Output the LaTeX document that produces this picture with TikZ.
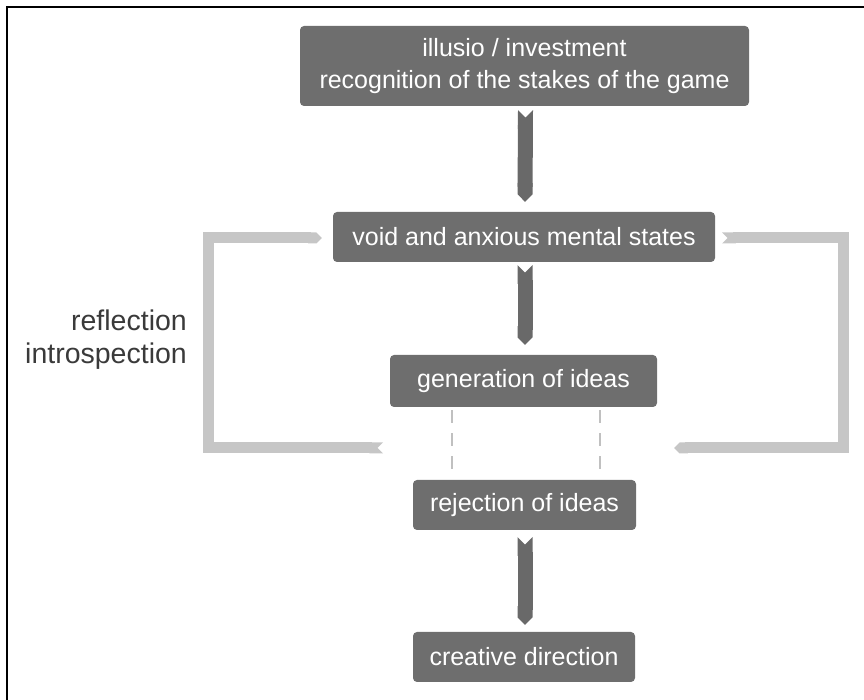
\documentclass[tikz,border=0pt]{standalone}
\usepackage{fontspec}
\setmainfont{Liberation Sans}
\usetikzlibrary{arrows.meta}
\definecolor{boxgray}{HTML}{6E6E6E}
\definecolor{arrgray}{HTML}{696969}
\definecolor{loopgray}{HTML}{C6C6C6}
\definecolor{dashgray}{HTML}{C0C0C0}
\definecolor{labgray}{HTML}{3A3A3A}
\begin{document}
\begin{tikzpicture}[x=1pt,y=1pt,
 stagebox/.style={fill=boxgray, rounded corners=4pt, text=white, inner sep=0pt, align=center, font=\fontsize{25}{32}\selectfont},
 bigarrow/.style={draw=arrgray, line width=15pt, {Triangle Cap[reversed]}-{Triangle Cap}},
 loopline/.style={draw=loopgray, line width=11pt, line join=miter, {Triangle Cap[reversed]}-{Triangle Cap}},
 dashline/.style={draw=dashgray, line width=2.5pt, dash pattern=on 13pt off 10pt},
 sidelabel/.style={text=labgray, align=right, font=\fontsize{28.5}{33}\selectfont, inner sep=0pt}]
\useasboundingbox (0,0) rectangle (864,700);
\draw[line width=2pt] (7,0) -- (7,693) -- (864,693);
\node[stagebox, minimum width=449pt, minimum height=80pt] (b1) at (524.5,634) {illusio / investment\\recognition of the stakes of the game};
\node[stagebox, minimum width=382pt, minimum height=50pt] (b2) at (524,463) {void and anxious mental states};
\node[stagebox, minimum width=267pt, minimum height=52pt] (b3) at (523.5,319) {generation of ideas};
\node[stagebox, minimum width=223pt, minimum height=50pt] (b4) at (524.5,195) {rejection of ideas};
\node[stagebox, minimum width=222pt, minimum height=50pt] (b5) at (524,43) {creative direction};
\node[sidelabel, anchor=east] (lab) at (187,360) {reflection\\introspection};
\draw[bigarrow] ([xshift=1pt,yshift=-4pt]b1.south) -- ([xshift=1pt,yshift=10pt]b2.north);
\draw[bigarrow] ([xshift=1pt,yshift=-3pt]b2.south) -- ([xshift=1.5pt,yshift=10pt]b3.north);
\draw[bigarrow] ([xshift=0.5pt,yshift=-7pt]b4.south) -- ([xshift=1pt,yshift=7pt]b5.north);
\draw[dashline] ([xshift=-71.5pt,yshift=-3pt]b3.south) -- ([xshift=-72.5pt,yshift=2pt]b4.north);
\draw[dashline] ([xshift=76.5pt,yshift=-3pt]b3.south) -- ([xshift=75.5pt,yshift=2pt]b4.north);
\coordinate (lin) at (383,252);
\coordinate (rin) at (674,252);
\draw[loopline] (lin) -- (208,252) -- (208,462) -- ([xshift=-11pt,yshift=-1pt]b2.west);
\draw[loopline] ([xshift=7pt,yshift=-1pt]b2.east) -- (843,462) -- (843,252) -- (rin);
\end{tikzpicture}
\end{document}
